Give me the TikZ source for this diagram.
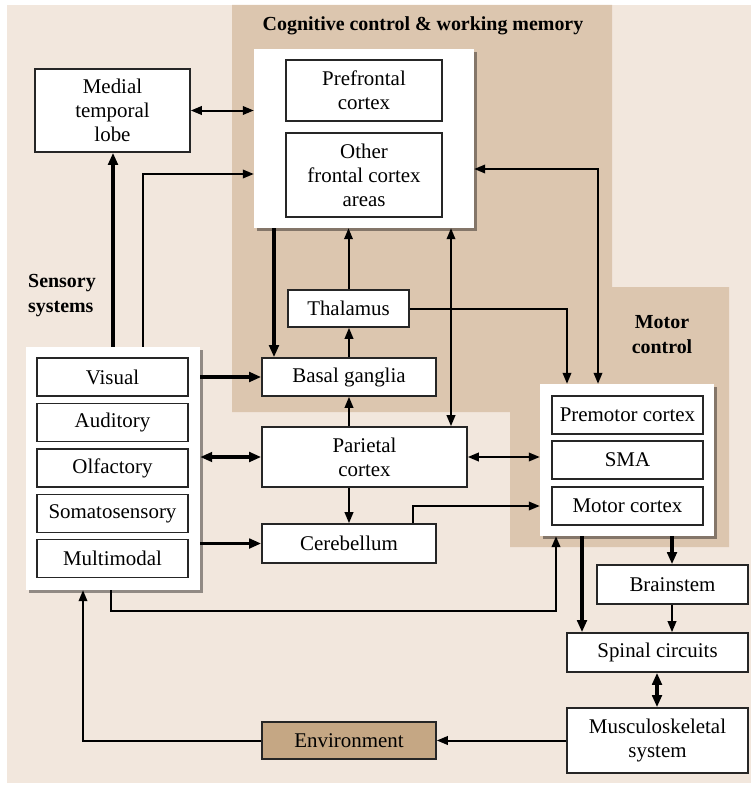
\documentclass[tikz,border=0pt]{standalone}
\usepackage{fontspec}
\setmainfont{Liberation Serif}
\usetikzlibrary{arrows.meta,shadows}
\definecolor{bgl}{RGB}{242,231,221}
\definecolor{bgd}{RGB}{220,198,175}
\definecolor{envc}{RGB}{197,167,132}
\begin{document}
\begin{tikzpicture}[x=1bp,y=-1bp,
  box/.style={draw=black!85, line width=1.6bp, fill=white, inner sep=0pt, align=center,
    font=\fontsize{21}{24}\selectfont},
  cont/.style={fill=white, inner sep=0pt,
    drop shadow={shadow xshift=3bp, shadow yshift=-3bp, fill=black, opacity=0.4}},
  lbl/.style={font=\bfseries\fontsize{20}{25}\selectfont, align=center, inner sep=0pt},
  arr/.style={line width=2bp, -{Triangle[length=11bp,width=8.5bp]}},
  darr/.style={line width=2bp, {Triangle[length=11bp,width=8.5bp]}-{Triangle[length=11bp,width=8.5bp]}},
  tarr/.style={line width=3.2bp, -{Triangle[length=12bp,width=9.5bp]}},
  tdarr/.style={line width=3.2bp, {Triangle[length=12bp,width=9.5bp]}-{Triangle[length=12bp,width=9.5bp]}}
]
\useasboundingbox (0,0) rectangle (751,785);
\fill[bgl] (7,5) rectangle (751,783);
\fill[bgd] (232,5) -- (612,5) -- (612,287) -- (729,287) -- (729,547) -- (510,547) -- (510,412) -- (232,412) -- cycle;

\node[lbl] (tcog) at (423,26) {Cognitive control \& working memory};
\node[lbl, anchor=west, align=left] (tsens) at (28,295.5) {Sensory\\systems};
\node[lbl] (tmot) at (662,334.5) {Motor\\control};

% cognitive control
\node[cont, minimum width=220bp, minimum height=179bp] (cog) at (364,138.5) {};
\node[box, minimum width=156bp, minimum height=61bp] (pfc) at (364,90.5) {Prefrontal\\cortex};
\node[box, minimum width=156bp, minimum height=84bp] (ofc) at (364,175) {Other\\frontal cortex\\areas};
\node[box, minimum width=155bp, minimum height=83bp] (mtl) at (112.5,110.5) {Medial\\temporal\\lobe};

% sensory
\node[cont, minimum width=174bp, minimum height=243bp] (sens) at (113,468.5) {};
\node[box, minimum width=151bp, minimum height=38bp] (vis) at (112.5,377) {Visual};
\node[box, minimum width=151bp, minimum height=38bp] (aud) at (112.5,422.5) {Auditory};
\node[box, minimum width=151bp, minimum height=38bp] (olf) at (112.5,468) {Olfactory};
\node[box, minimum width=151bp, minimum height=38bp] (som) at (112.5,513.5) {Somatosensory};
\node[box, minimum width=151bp, minimum height=38bp] (mul) at (112.5,558.5) {Multimodal};

% middle column
\node[box, minimum width=121bp, minimum height=37bp] (thal) at (348.5,308.5) {Thalamus};
\node[box, minimum width=174bp, minimum height=38bp] (bg) at (349,377) {Basal ganglia};
\node[box, minimum width=205bp, minimum height=60bp] (par) at (364.5,457) {Parietal\\cortex};
\node[box, minimum width=174bp, minimum height=39bp] (cer) at (349,543.5) {Cerebellum};

% motor
\node[cont, minimum width=174bp, minimum height=152bp] (motor) at (627,460) {};
\node[box, minimum width=151bp, minimum height=38bp] (pmc) at (627.5,415) {Premotor cortex};
\node[box, minimum width=151bp, minimum height=38bp] (sma) at (627.5,460) {SMA};
\node[box, minimum width=151bp, minimum height=38bp] (mc) at (627.5,506) {Motor cortex};

\node[box, minimum width=151bp, minimum height=39bp] (brain) at (672.5,584.5) {Brainstem};
\node[box, minimum width=181bp, minimum height=39bp] (spinal) at (657.5,652.5) {Spinal circuits};
\node[box, minimum width=181bp, minimum height=65bp] (musc) at (657.5,740.5) {Musculoskeletal\\system};
\node[box, fill=envc, minimum width=174bp, minimum height=37bp] (env) at (349,740.5) {Environment};

% helper coordinates
\coordinate (k1) at (143,174);
\coordinate (k2) at (274,0);
\coordinate (k3) at (451,0);
\coordinate (k4) at (598,169);
\coordinate (k5) at (567,0);
\coordinate (k6) at (413,506);
\coordinate (k7) at (111,611);
\coordinate (k8) at (556,611);
\coordinate (k9) at (83,0);
\coordinate (k10) at (582,0);
\coordinate (k11) at (672,0);
\coordinate (k12) at (657,0);

% connectors
\draw[darr] (mtl.east) -- (mtl.east -| cog.west);
\draw[tarr] (sens.north) -- (sens.north |- mtl.south);
\draw[arr] (k1 |- sens.north) |- (cog.west |- k1);
\draw[tarr] (k2 |- cog.south) -- (k2 |- bg.north);
\draw[arr] (thal.north) -- (thal.north |- cog.south);
\draw[arr] (bg.north) -- (bg.north |- thal.south);
\draw[arr] (bg.south |- par.north) -- (bg.south);
\draw[arr] (cer.north |- par.south) -- (cer.north);
\draw[darr] (k3 |- cog.south) -- (k3 |- par.north);
\draw[darr] (cog.east |- k4) -| (k4 |- motor.north);
\draw[arr] (thal.east) -| (k5 |- motor.north);
\draw[darr] (par.east) -- (par.east -| motor.west);
\draw[arr] (k6 |- cer.north) |- (motor.west |- k6);
\draw[tarr] (sens.east |- bg) -- (bg.west);
\draw[tdarr] (sens.east |- par) -- (par.west);
\draw[tarr] (sens.east |- cer) -- (cer.west);
\draw[arr, line width=2.4bp] (k7 |- sens.south) -- (k7) -- (k8) -- (k8 |- motor.south);
\draw[arr] (env.west) -| (k9 |- sens.south);
\draw[arr] (musc.west |- env) -- (env.east);
\draw[tarr] (k10 |- motor.south) -- (k10 |- spinal.north);
\draw[tarr] (k11 |- motor.south) -- (k11 |- brain.north);
\draw[arr] (k11 |- brain.south) -- (k11 |- spinal.north);
\draw[tdarr] (k12 |- spinal.south) -- (k12 |- musc.north);
\end{tikzpicture}
\end{document}
